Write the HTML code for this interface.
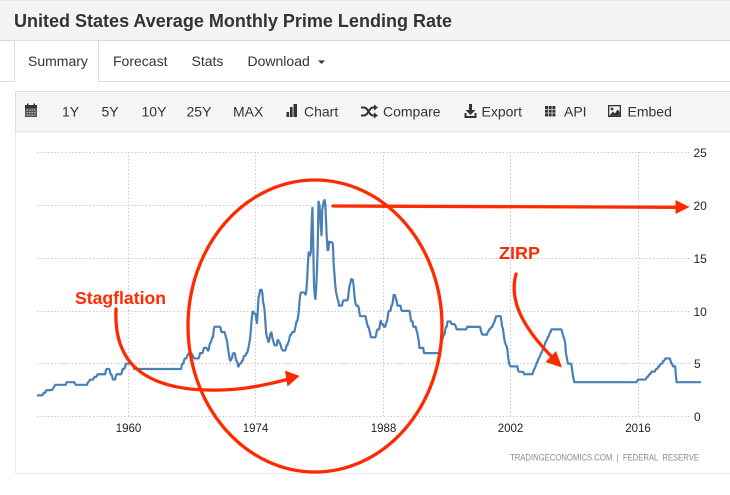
<!DOCTYPE html>
<html><head><meta charset="utf-8"><style>
html,body{margin:0;padding:0;background:#fff;width:730px;height:495px;overflow:hidden}
svg{display:block}
</style></head><body>
<svg width="730" height="495" viewBox="0 0 730 495" xmlns="http://www.w3.org/2000/svg" font-family="'Liberation Sans', Arial, Helvetica, sans-serif">
<!-- title bar -->
<rect x="0" y="0" width="730" height="40.5" fill="#f4f4f4"/>
<line x1="0" y1="0.5" x2="730" y2="0.5" stroke="#e6e6e6"/>
<line x1="0" y1="40.5" x2="730" y2="40.5" stroke="#d8d8d8"/>
<text x="14" y="27" font-size="18" font-weight="bold" fill="#333" textLength="438" lengthAdjust="spacingAndGlyphs">United States Average Monthly Prime Lending Rate</text>

<!-- tabs -->
<path d="M0 81.5 H14.5 V40.5 H98.5 V81.5 H730" fill="none" stroke="#dcdcdc"/>
<g font-size="14" fill="#333">
<text x="28" y="66">Summary</text>
<text x="113" y="66">Forecast</text>
<text x="191.5" y="66">Stats</text>
<text x="247.5" y="66">Download</text>
</g>
<polygon points="318,60.5 325,60.5 321.5,64" fill="#333"/>

<!-- toolbar -->
<rect x="15.5" y="91.5" width="715" height="40.5" fill="#f5f5f5" stroke="#e0e0e0"/>
<!-- calendar icon -->
<g>
<rect x="25" y="105" width="12" height="12" fill="#555"/>
<rect x="25" y="105" width="12" height="3" fill="#333"/>
<rect x="27" y="103.5" width="1.5" height="3" fill="#333"/>
<rect x="33.5" y="103.5" width="1.5" height="3" fill="#333"/>
<g fill="#bbb">
<rect x="26.5" y="109.5" width="1.5" height="1.2"/><rect x="29" y="109.5" width="1.5" height="1.2"/><rect x="31.5" y="109.5" width="1.5" height="1.2"/><rect x="34" y="109.5" width="1.5" height="1.2"/>
<rect x="26.5" y="112" width="1.5" height="1.2"/><rect x="29" y="112" width="1.5" height="1.2"/><rect x="31.5" y="112" width="1.5" height="1.2"/><rect x="34" y="112" width="1.5" height="1.2"/>
<rect x="26.5" y="114.5" width="1.5" height="1.2"/><rect x="29" y="114.5" width="1.5" height="1.2"/><rect x="31.5" y="114.5" width="1.5" height="1.2"/><rect x="34" y="114.5" width="1.5" height="1.2"/>
</g>
</g>
<g font-size="14" fill="#333">
<text x="62" y="116.5">1Y</text>
<text x="101.5" y="116.5">5Y</text>
<text x="141.5" y="116.5">10Y</text>
<text x="186.5" y="116.5">25Y</text>
<text x="233" y="116.5">MAX</text>
<text x="304" y="116.5">Chart</text>
<text x="383" y="116.5">Compare</text>
<text x="481.5" y="116.5">Export</text>
<text x="564" y="116.5">API</text>
<text x="627.5" y="116.5">Embed</text>
</g>
<!-- chart icon -->
<g fill="#333">
<rect x="286.5" y="112" width="2.6" height="5"/>
<rect x="290" y="107" width="2.6" height="10"/>
<rect x="293.5" y="104" width="3.5" height="13"/>
</g>
<!-- shuffle icon -->
<g fill="none" stroke="#333" stroke-width="2">
<path d="M361 107.5 H364 C368 107.5 369 115.5 373 115.5 H375"/>
<path d="M361 115.5 H364 C368 115.5 369 107.5 373 107.5 H375"/>
</g>
<polygon points="374,104.5 378,107.5 374,110.5" fill="#333"/>
<polygon points="374,112.5 378,115.5 374,118.5" fill="#333"/>
<!-- export icon -->
<g fill="#333">
<rect x="469" y="104" width="3" height="7"/>
<polygon points="465.5,110 475.5,110 470.5,115"/>
<path d="M464.5 113 V118 H476.5 V113 H474.5 V116 H466.5 V113 Z"/>
</g>
<!-- API icon -->
<g fill="#333">
<rect x="545" y="106" width="3" height="3"/><rect x="548.7" y="106" width="3" height="3"/><rect x="552.4" y="106" width="3" height="3"/>
<rect x="545" y="109.7" width="3" height="3"/><rect x="548.7" y="109.7" width="3" height="3"/><rect x="552.4" y="109.7" width="3" height="3"/>
<rect x="545" y="113.4" width="3" height="3"/><rect x="548.7" y="113.4" width="3" height="3"/><rect x="552.4" y="113.4" width="3" height="3"/>
</g>
<!-- embed icon -->
<g>
<rect x="608" y="105" width="13" height="12" fill="#333"/>
<rect x="609.3" y="106.3" width="10.4" height="9.4" fill="#f5f5f5"/>
<circle cx="612" cy="109" r="1.4" fill="#333"/>
<polygon points="609.3,115.7 613,111.5 615,113.5 617.5,109.5 619.7,112 619.7,115.7" fill="#333"/>
</g>

<!-- chart container borders -->
<line x1="15.5" y1="132" x2="15.5" y2="473.5" stroke="#ececec"/>
<line x1="15.5" y1="473.5" x2="730" y2="473.5" stroke="#ececec"/>

<!-- gridlines -->
<g stroke="#c9c9c9" stroke-width="1" stroke-dasharray="1.5 2" fill="none">
<line x1="37" y1="152.5" x2="690" y2="152.5"/>
<line x1="37" y1="205.5" x2="690" y2="205.5"/>
<line x1="37" y1="258.5" x2="690" y2="258.5"/>
<line x1="37" y1="311.5" x2="690" y2="311.5"/>
<line x1="37" y1="363.5" x2="690" y2="363.5"/>
<line x1="37" y1="416.5" x2="690" y2="416.5"/>
<line x1="128.5" y1="152" x2="128.5" y2="416"/>
<line x1="255.5" y1="152" x2="255.5" y2="416"/>
<line x1="383.5" y1="152" x2="383.5" y2="416"/>
<line x1="510.5" y1="152" x2="510.5" y2="416"/>
<line x1="638.5" y1="152" x2="638.5" y2="416"/>
</g>

<!-- y labels -->
<g font-size="12" fill="#222">
<text x="693.5" y="157">25</text>
<text x="693.5" y="210">20</text>
<text x="693.5" y="263">15</text>
<text x="693.5" y="316">10</text>
<text x="694" y="368">5</text>
<text x="694" y="421">0</text>
</g>
<!-- x labels -->
<g font-size="11.5" fill="#222" text-anchor="middle">
<text x="128.5" y="432">1960</text>
<text x="255.5" y="432">1974</text>
<text x="383.5" y="432">1988</text>
<text x="510.5" y="432">2002</text>
<text x="638" y="432">2016</text>
</g>

<text x="510" y="460.5" font-size="9.5" fill="#8a8a96" xml:space="preserve" style="white-space:pre" textLength="189" lengthAdjust="spacingAndGlyphs">TRADINGECONOMICS.COM  |  FEDERAL  RESERVE</text>

<!-- data series -->
<g transform="translate(36.93 416.5) scale(0.75892 -10.56)">
<polyline fill="none" stroke="#4a80b6" stroke-width="2.2" stroke-linejoin="round" vector-effect="non-scaling-stroke" points="
0,2 7,2 8,2.08 9,2.25 11,2.25 12,2.44 13,2.5 20,2.5 21,2.62 22,2.75 23,2.85 24,3 38,3 39,3.25 49,3.25 50,3.13 51,3 66,3 67,3.23 68,3.25 69,3.4 70,3.5 74,3.5 75,3.65 76,3.75 78,3.75 79,3.84 80,4 90,4 91,4.42 92,4.5 95,4.5 96,4.34 97,4 98,4 99,3.83 100,3.5 103,3.5 104,3.83 105,4 111,4 112,4.23 113,4.5 115,4.5 116,4.67 117,5 126,5 127,4.85 128,4.5 190,4.5 191,4.92 192,5 193,5 194,5.35 195,5.5 196,5.5 197,5.52 198,5.75 199,5.88 200,6 203,6 204,5.96 205,5.75 206,5.71 207,5.5 213,5.5 214,5.68 215,6 218,6 219,6.2 220,6.5 223,6.5 224,6.45 225,6.25 226,6.25 227,6.6 228,6.95 229,7 230,7.24 231,7.5 232,7.5 233,8.23 234,8.5 241,8.5 242,8.39 243,8 247,8 248,7.83 249,7.5 250,7.28 251,6.92 252,6.29 253,5.88 254,5.44 255,5.28 256,5.46 257,5.5 258,5.91 259,6 260,6 261,5.91 262,5.47 263,5.25 264,5.18 265,4.75 266,4.75 267,4.98 268,5 269,5.04 270,5.25 271,5.27 272,5.5 273,5.73 274,5.75 275,5.79 276,6 277,6.02 278,6.3 279,6.61 280,7.01 281,7.49 282,8.3 283,9.23 284,9.86 285,9.94 286,9.75 287,9.75 288,9.73 289,9.21 290,8.85 291,10.02 292,11.25 293,11.54 294,11.98 295,12 296,12 297,11.68 298,10.83 299,10.5 300,10.05 301,8.96 302,7.93 303,7.5 304,7.4 305,7.07 306,7.15 307,7.66 308,7.88 309,7.96 310,7.53 311,7.26 312,7 313,6.75 316,6.75 317,7.2 318,7.25 319,7.01 320,7 321,6.78 322,6.5 323,6.35 324,6.25 327,6.25 328,6.41 329,6.75 330,6.75 331,7.01 332,7.13 333,7.52 334,7.75 335,7.75 336,7.93 337,8 339,8 340,8.27 341,8.63 342,9 343,9.01 344,9.41 345,9.94 346,10.94 347,11.55 348,11.75 352,11.75 353,11.65 354,11.54 355,11.91 356,12.9 357,14.39 358,15.55 359,15.3 360,15.25 361,15.63 362,18.31 363,19.77 364,16.57 365,12.63 366,11.48 367,11.12 368,12.23 369,13.79 370,16.06 371,20.35 372,20.16 373,19.43 374,18.05 375,17.15 376,19.61 377,20.03 378,20.39 379,20.5 380,20.08 381,18.45 382,16.84 383,15.75 384,15.75 385,16.56 386,16.5 389,16.5 390,16.26 391,14.39 392,13.5 393,12.52 394,11.85 395,11.5 396,11.16 397,10.98 398,10.5 402,10.5 403,10.89 404,11 409,11 410,11.21 411,11.93 412,12.39 413,12.6 414,13 415,13 416,12.97 417,12.58 418,11.77 419,11.06 420,10.61 421,10.5 423,10.5 424,10.31 425,9.78 426,9.5 433,9.5 434,9.1 435,8.83 436,8.5 437,8.5 438,8.16 439,7.9 440,7.5 446,7.5 447,7.75 448,8.14 449,8.25 451,8.25 452,8.7 453,9.07 454,8.78 455,8.75 456,8.75 457,8.51 459,8.5 460,8.84 461,9 462,9.29 463,9.84 464,10 465,10 466,10.05 467,10.5 468,10.5 469,10.93 470,11.5 472,11.5 473,11.07 474,10.98 475,10.5 479,10.5 480,10.11 481,10 491,10 492,9.52 493,9.05 494,9 495,9 496,8.5 499,8.5 500,8.2 501,8 502,7.58 503,7.21 504,6.5 509,6.5 510,6.02 511,6 529,6 530,6.06 531,6.45 532,6.99 533,7.25 534,7.25 535,7.51 536,7.75 537,7.75 538,8.15 539,8.5 540,8.5 541,9 545,9 546,8.8 547,8.75 550,8.75 551,8.65 552,8.5 553,8.25 565,8.25 566,8.3 567,8.5 584,8.49 585,8.12 586,7.89 587,7.75 593,7.75 594,8 595,8.06 596,8.25 597,8.25 598,8.37 599,8.5 600,8.5 601,8.73 602,8.83 603,9 604,9.24 605,9.5 611,9.5 612,9.05 613,8.5 614,8.32 615,7.8 616,7.24 617,6.98 618,6.75 619,6.67 620,6.28 621,5.53 622,5.1 623,4.84 624,4.75 633,4.75 634,4.35 635,4.25 641,4.22 642,4 653,4.01 654,4.25 655,4.43 656,4.58 657,4.75 658,4.93 659,5.15 660,5.25 661,5.49 662,5.58 663,5.75 664,5.98 665,6.01 666,6.25 667,6.44 668,6.59 669,6.75 670,7 671,7.15 672,7.26 673,7.5 674,7.53 675,7.75 676,7.93 677,8.02 678,8.25 691,8.25 692,8.03 693,7.74 694,7.5 695,7.33 696,6.98 697,6 698,5.66 699,5.24 700,5 704,5 705,4.56 706,4 707,3.61 708,3.25 790,3.25 791,3.35 792,3.5 802,3.5 803,3.63 804,3.75 805,3.75 806,3.88 807,4 808,4 809,4.13 810,4.25 814,4.25 815,4.4 816,4.5 817,4.5 818,4.59 819,4.75 820,4.75 821,4.89 822,5 823,5 824,5.03 825,5.25 826,5.25 827,5.35 828,5.5 834,5.5 835,5.25 836,5 837,4.99 838,4.75 841,4.75 842,3.78 843,3.25 875,3.25"/>
</g>

<!-- annotations -->
<g stroke="#ff2a00" fill="none" stroke-width="3.3" stroke-linecap="round">
<ellipse cx="315" cy="326" rx="127" ry="146"/>
<path d="M116 309 C114 352 132 382 190 389 C232 393 262 386 289 379"/>
<path d="M333 206 L677 207.3"/>
<path d="M516 274 C509 300 522 326 551 356"/>
</g>
<g fill="#ff2a00">
<polygon points="299.5,376 285,370.5 287.5,386.5"/>
<polygon points="689.5,207 675.5,200 675.5,214"/>
<polygon points="562,367.5 545.5,362 556,351"/>
</g>
<g font-size="17.5" font-weight="bold" fill="#ff2a00">
<text x="75" y="304" textLength="91" lengthAdjust="spacingAndGlyphs">Stagflation</text>
<text x="499" y="259" textLength="41" lengthAdjust="spacingAndGlyphs">ZIRP</text>
</g>
</svg>
</body></html>
